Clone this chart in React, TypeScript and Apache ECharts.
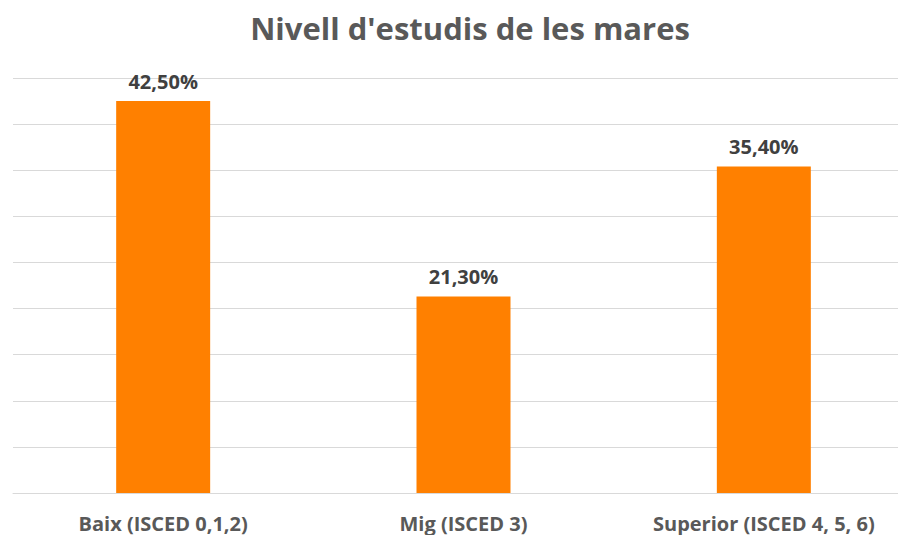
import React, { useEffect, useRef } from "react";
import * as echarts from "echarts";

const categories = ["Baix (ISCED 0,1,2)", "Mig (ISCED 3)", "Superior (ISCED 4, 5, 6)"];
const values = [42.5, 21.3, 35.4];
const titleText = "Nivell d'estudis de les mares";

export default function App() {
  const ref = useRef<HTMLDivElement>(null);
  useEffect(() => {
    if (!ref.current) return;
    const chart = echarts.init(ref.current, undefined, { renderer: "svg" });
    chart.setOption({
      animation: false,
      backgroundColor: "#ffffff",
      title: {
        text: titleText,
        left: 465,
        textAlign: "center",
        top: 7,
        textStyle: {
          fontFamily: "Open Sans",
          fontWeight: "bold",
          fontSize: 31,
          color: "#595959",
        },
      },
      grid: {
        left: 13,
        width: 901,
        top: 78,
        bottom: 42,
        containLabel: false,
        outerBoundsMode: "none",
      },
      xAxis: {
        type: "category",
        data: categories,
        axisLine: { show: true, lineStyle: { color: "#d9d9d9", width: 1 } },
        axisTick: { show: false },
        axisLabel: {
          margin: 20,
          fontFamily: "Open Sans",
          fontWeight: "bold",
          fontSize: 20,
          color: "#595959",
          interval: 0,
          hideOverlap: false,
        },
      },
      yAxis: {
        type: "value",
        min: 0,
        max: 45,
        interval: 5,
        axisLabel: { show: false },
        axisLine: { show: false },
        axisTick: { show: false },
        splitLine: { show: true, lineStyle: { color: "#d9d9d9", width: 1 } },
      },
      series: [
        {
          type: "bar",
          data: values,
          barWidth: 94,
          itemStyle: { color: "#ff8000" },
          label: {
            show: true,
            position: "top",
            distance: 10,
            fontFamily: "Open Sans",
            fontWeight: "bold",
            fontSize: 20,
            color: "#404040",
            formatter: (p: any) => p.value.toFixed(2).replace(".", ",") + "%",
          },
        },
      ],
    });
    return () => chart.dispose();
  }, []);
  return <div ref={ref} style={{ width: 898, height: 535, position: "absolute", left: 0, top: 0 }} />;
}
